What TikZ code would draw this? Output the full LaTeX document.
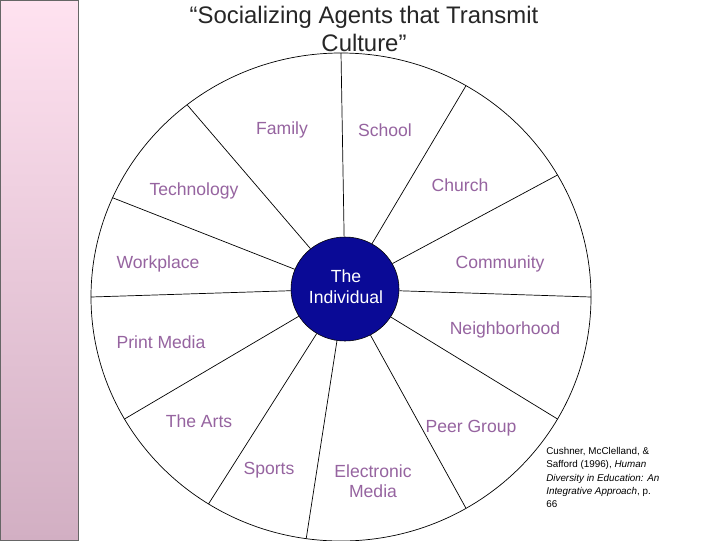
\documentclass[tikz,border=0pt]{standalone}
\usepackage{fontspec}
\setmainfont{Liberation Sans}
\usetikzlibrary{shapes.geometric,calc}
\begin{document}
\begin{tikzpicture}[x=0.025cm,y=-0.025cm,
  lab/.style={text=labc,font=\fontsize{12.5}{14.5}\selectfont,align=center},
  spoke/.style={draw=black,line width=0.5pt}]
\definecolor{labc}{RGB}{150,100,160}
\definecolor{stripTop}{RGB}{255,226,240}
\definecolor{stripBot}{RGB}{210,175,195}
\definecolor{indiv}{RGB}{10,10,150}
\useasboundingbox (0,0) rectangle (720,540);
\fill[white] (0,0) rectangle (720,540);
\shade[top color=stripTop,bottom color=stripBot,draw=black!60] (0,0) rectangle (78,540);
\node[font=\fontsize{17}{20}\selectfont,align=center,text=black!85] (title) at (364,29) {“Socializing Agents that Transmit\\Culture”};
\coordinate (c) at (341,297);
\draw[spoke] (c) circle[x radius=250,y radius=244];
\node[ellipse,fill=indiv,draw=black,minimum width=108*0.025cm,minimum height=104*0.025cm,inner sep=0pt] (ind) at (345,289) {};
\node[text=white,font=\fontsize{12.5}{15}\selectfont,align=center] (indt) at (346,287) {The\\Individual};
\foreach \a/\n in {90/a,60/b,30/c2,0/d,-30/e,-60/f,-98/g,-122/h,-150/i,180/j,156/k,128/l}{
  \coordinate (o\n) at ($(c)+(\a:250 and -244)$);
}
\foreach \n in {a,b,c2,d,e,f,g,h,i,j,k,l}{
  \draw[spoke] (o\n) -- (ind);
}
\node[lab] (fam) at (282,130) {Family};
\node[lab] (sch) at (385,130) {School};
\node[lab] (chu) at (460,185) {Church};
\node[lab] (tec) at (194,191) {Technology};
\node[lab] (wor) at (158,264) {Workplace};
\node[lab] (com) at (500,264) {Community};
\node[lab] (nei) at (505,330) {Neighborhood};
\node[lab] (pri) at (161,342) {Print Media};
\node[lab] (art) at (199,421) {The Arts};
\node[lab] (pee) at (471,428) {Peer Group};
\node[lab] (spo) at (269,470) {Sports};
\node[lab] (ele) at (373,481) {Electronic\\Media};
\node[anchor=north west,align=left,font=\fontsize{7}{9.5}\selectfont,inner sep=0pt] (cit) at (546,447) {Cushner, McClelland, \&\\Safford (1996), \textit{Human}\\\textit{Diversity in Education: An}\\\textit{Integrative Approach}, p.\\66};
\end{tikzpicture}
\end{document}
